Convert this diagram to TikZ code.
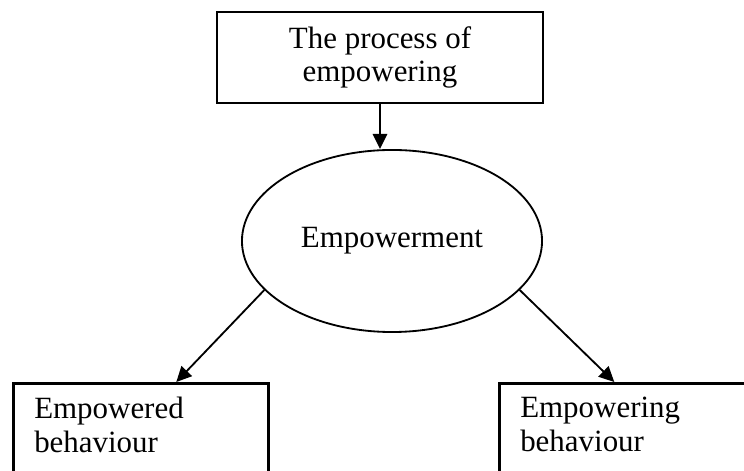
\documentclass[tikz,border=0pt]{standalone}
\usepackage{fontspec}
\setmainfont{Liberation Serif}
\usetikzlibrary{arrows.meta,shapes.geometric}

\begin{document}
\begin{tikzpicture}[x=0.025cm, y=-0.025cm, >={Triangle[length=0.38cm, width=0.36cm]},
	font=\fontsize{22}{24}\selectfont,
	box/.style={draw, line width=1.8pt, inner sep=0pt},
	outcome/.style={box, anchor=north west, align=left, text width=5.325cm, inner xsep=0.525cm, inner ysep=0.34cm, text depth=2cm},
	link/.style={line width=1.3pt, ->}]
	\clip (0,0) rectangle (744,471);

	\node[box, align=center, minimum width=8.15cm, minimum height=2.275cm] (process) at (380,57.5) {The process of\\empowering};
	\node[draw, ellipse, line width=1.3pt, inner sep=0pt, minimum width=7.5cm, minimum height=4.55cm] (empowerment) at (392,241) {Empowerment};

	\node[outcome] (empowered) at (12,382) {Empowered\\behaviour};
	\node[outcome] (empowering) at (498,382) {Empowering\\behaviour};

	\draw[link] (process.south) -- (process.south |- empowerment.north);
	\draw[link] (empowerment.201.5) -- ([xshift=0.8875cm]empowered.north);
	\draw[link] (empowerment.339.7) -- ([xshift=-0.3125cm]empowering.north);

\end{tikzpicture}
\end{document}
